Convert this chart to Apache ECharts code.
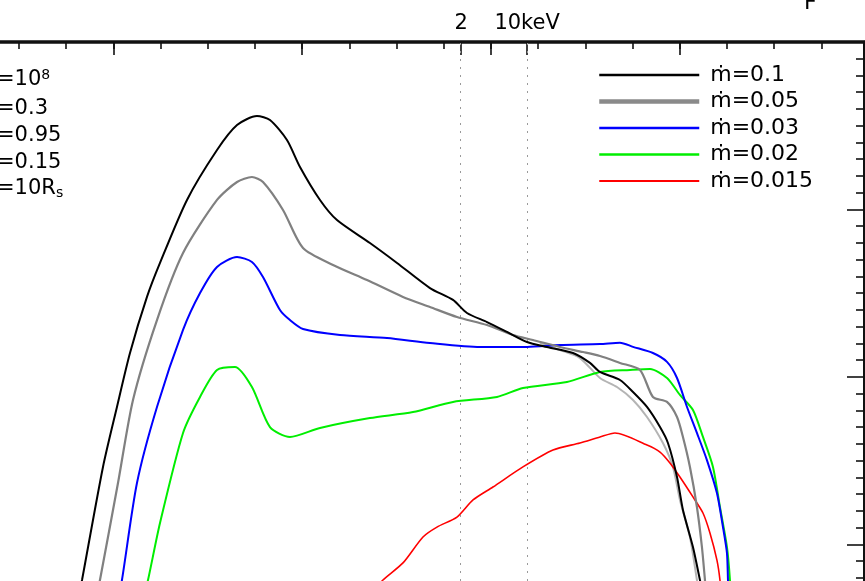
<!DOCTYPE html>
<html><head><meta charset="utf-8">
<script src="https://cdn.jsdelivr.net/npm/echarts@6/dist/echarts.min.js"></script>
<style>html,body{margin:0;padding:0;background:#fff}#c{width:865px;height:581px}</style>
</head><body><div id="c"></div>
<script>
// x: log10(nu / Hz), y: log10(nu L_nu) (arbitrary offset)
const seriesNames = ['ṁ=0.1', 'ṁ=0.05', 'ṁ=0.03', 'ṁ=0.02', 'ṁ=0.015'];
const seriesColors = ['#000000', '#808080', '#0000ff', '#00ee00', '#ff0000'];

const mdot010 = [[13.608,40.61],[13.668,40.788],[13.890,41.463],[14.038,41.821],[14.176,42.143],[14.356,42.478],[14.494,42.681],[14.780,43.057],[15.098,43.355],[15.310,43.504],[15.521,43.558],[15.659,43.534],[15.839,43.415],[15.977,43.254],[16.189,43.057],[16.369,42.937],[16.718,42.800],[17.005,42.681],[17.354,42.531],[17.598,42.460],[17.746,42.382],[17.958,42.328],[18.170,42.269],[18.382,42.209],[18.593,42.179],[18.869,42.143],[19.049,42.084],[19.155,42.030],[19.367,41.982],[19.505,41.910],[19.653,41.821],[19.791,41.701],[19.875,41.606],[19.971,41.403],[20.034,41.206],[20.140,40.985],[20.214,40.788],[20.267,40.639]];
const mdot005 = [[13.805,40.639],[13.858,40.788],[14.049,41.367],[14.208,41.863],[14.462,42.340],[14.738,42.740],[15.098,43.057],[15.310,43.164],[15.468,43.194],[15.585,43.164],[15.797,42.997],[16.009,42.770],[16.327,42.669],[16.687,42.579],[17.068,42.478],[17.354,42.418],[17.640,42.358],[17.958,42.310],[18.233,42.251],[18.445,42.221],[18.731,42.179],[18.975,42.149],[19.155,42.125],[19.367,42.084],[19.579,42.042],[19.716,41.881],[19.865,41.851],[19.971,41.761],[20.034,41.642],[20.108,41.463],[20.182,41.224],[20.235,40.985],[20.267,40.788],[20.288,40.639]];
const mdot005b = [[18.519,42.203],[18.731,42.161],[18.943,42.113],[19.155,41.994],[19.335,41.940],[19.505,41.863],[19.653,41.761],[19.822,41.606],[19.928,41.463],[20.002,41.266],[20.108,41.045],[20.182,40.788],[20.214,40.669]];
const mdot003 = [[14.038,40.639],[14.091,40.788],[14.250,41.367],[14.462,41.821],[14.738,42.281],[14.918,42.501],[15.098,42.657],[15.310,42.716],[15.468,42.687],[15.585,42.597],[15.765,42.400],[15.871,42.340],[16.009,42.287],[16.401,42.251],[16.899,42.233],[17.354,42.203],[17.884,42.179],[18.382,42.179],[18.731,42.191],[19.155,42.197],[19.367,42.205],[19.505,42.180],[19.716,42.143],[19.865,42.090],[19.971,41.994],[20.077,41.821],[20.182,41.666],[20.288,41.504],[20.394,41.307],[20.458,41.104],[20.500,40.949],[20.511,40.788],[20.522,40.639]];
const mdot002 = [[14.303,40.639],[14.367,40.788],[14.494,41.128],[14.738,41.666],[14.918,41.881],[15.098,42.042],[15.288,42.060],[15.468,41.940],[15.659,41.701],[15.871,41.642],[16.189,41.696],[16.718,41.755],[17.174,41.791],[17.598,41.851],[18.064,41.881],[18.339,41.934],[18.805,41.970],[19.155,42.030],[19.473,42.042],[19.685,42.048],[19.865,41.994],[20.002,41.893],[20.140,41.803],[20.246,41.642],[20.352,41.463],[20.426,41.224],[20.500,40.985],[20.532,40.788],[20.543,40.639]];
const mdot0015 = [[16.718,40.699],[16.856,40.788],[17.068,40.890],[17.280,41.045],[17.428,41.104],[17.640,41.164],[17.810,41.266],[18.021,41.343],[18.339,41.463],[18.657,41.564],[18.943,41.606],[19.155,41.642],[19.314,41.666],[19.653,41.594],[19.791,41.552],[19.896,41.487],[20.002,41.403],[20.140,41.284],[20.246,41.188],[20.320,41.069],[20.394,40.907],[20.426,40.788],[20.447,40.639]];

const energyMarks = [17.684, 18.383];           // 2 keV, 10 keV in log10(nu)
const energyLabels = ['2', '10keV'];
const xMinorTicks = [13,13.5,14,14.5,15,15.5,16,16.5,17,17.5,18,18.5,19,19.5,20,20.5,21,21.5];
const xMajorTicks = [14,16,18,20];
const yMinorTicks = [40.8,40.9,41.1,41.2,41.3,41.4,41.5,41.6,41.7,41.8,41.9,42.1,42.2,42.3,42.4,42.5,42.6,42.7,42.8,42.9,43.1,43.2,43.3,43.4,43.5,43.6,43.7,43.8,43.9];
const yMajorTicks = [41,42,43];
const paramLabels = ['{t|=10}{sup|8}', '{t|=0.3}', '{t|=0.95}', '{t|=0.15}', '{t|=10R}{sub|s}'];

const FONT = 'DejaVu Sans';
const chart = echarts.init(document.getElementById('c'), null, {renderer: 'canvas'});

const dataSets = [mdot010, mdot005, mdot003, mdot002, mdot0015];
const widths = [2, 2.2, 2, 2, 1.6];
const series = dataSets.map((d, i) => ({
  name: seriesNames[i], type: 'line', data: d, symbol: 'none', showSymbol: false,
  smooth: 0.25, clip: true, z: 10 - i,
  lineStyle: {color: seriesColors[i], width: widths[i]}, itemStyle: {color: seriesColors[i]}
}));
series.push({
  name: 'mdot005b', type: 'line', data: mdot005b, symbol: 'none', showSymbol: false, clip: true, z: 4,
  smooth: 0.25, lineStyle: {color: '#b4b4b4', width: 2}
});
series.push({
  name: 'marks', type: 'line', data: [], symbol: 'none',
  markLine: {
    silent: true, symbol: 'none', label: {show: false},
    lineStyle: {color: '#9a9a9a', width: 1, type: [2, 6]},
    data: energyMarks.map(v => ({xAxis: v}))
  }
});

const X0 = 12.799, XMAX = 21.952;
const legendWidths = [2.5, 4.5, 2.5, 2.5, 2];
const legendColors = ['#000000', '#8a8a8a', '#0000ff', '#00ee00', '#ff0000'];
const option = {
  animation: false,
  backgroundColor: '#fff',
  grid: {left: 0, right: 1, top: 42, bottom: 0, containLabel: false},
  xAxis: [
    {type: 'value', position: 'top', min: X0, max: XMAX,
     axisLine: {show: true, lineStyle: {color: '#111', width: 3.5}},
     axisTick: {show: true, inside: true, length: 7, customValues: xMinorTicks, lineStyle: {color: '#111', width: 1.6}},
     axisLabel: {show: true, customValues: energyMarks, margin: 8,
       formatter: v => energyLabels[energyMarks.findIndex(m => Math.abs(m - v) < 1e-6)] || '',
       fontFamily: FONT, fontSize: 21, color: '#000'},
     splitLine: {show: false}},
    {type: 'value', position: 'top', min: X0, max: XMAX,
     axisLine: {show: false},
     axisTick: {show: true, inside: true, length: 13, customValues: xMajorTicks.concat(energyMarks), lineStyle: {color: '#111', width: 1.6}},
     axisLabel: {show: false}, splitLine: {show: false}}
  ],
  yAxis: [
    {type: 'value', position: 'right', min: 40.782, max: 44,
     axisLine: {show: true, lineStyle: {color: '#111', width: 3}},
     axisTick: {show: true, inside: true, length: 8, customValues: yMinorTicks, lineStyle: {color: '#111', width: 1.6}},
     axisLabel: {show: false}, splitLine: {show: false}},
    {type: 'value', position: 'right', min: 40.782, max: 44,
     axisLine: {show: false},
     axisTick: {show: true, inside: true, length: 17, customValues: yMajorTicks, lineStyle: {color: '#111', width: 1.6}},
     axisLabel: {show: false}, splitLine: {show: false}}
  ],
  legend: {
    orient: 'vertical', left: 597, top: 64, padding: 0, itemWidth: 100, itemHeight: 14, itemGap: 4.5,
    textStyle: {fontFamily: FONT, fontSize: 22, color: '#000', lineHeight: 22, padding: [0, 0, 0, 6]},
    data: seriesNames.map((n, i) => ({name: n,
      lineStyle: {color: legendColors[i], width: legendWidths[i]}, itemStyle: {color: legendColors[i], opacity: 0}}))
  },
  graphic: [
    ...paramLabels.map((t, i) => ({
      type: 'text', left: -3, top: [68, 98, 125, 152, 178][i], silent: true,
      style: {text: t, fontFamily: FONT, fontSize: 21, fill: '#000',
        rich: {t: {fontFamily: FONT, fontSize: 21, fill: '#000'},
               sup: {fontFamily: FONT, fontSize: 14, verticalAlign: 'top', padding: [0, 0, 10, 0]},
               sub: {fontFamily: FONT, fontSize: 14, padding: [10, 0, 0, 0]}}}
    })),
    {type: 'text', left: 804, top: -8, silent: true, style: {text: 'F', fontFamily: FONT, fontSize: 22, fill: '#000'}}
  ],
  series: series
};
chart.setOption(option);
</script></body></html>
